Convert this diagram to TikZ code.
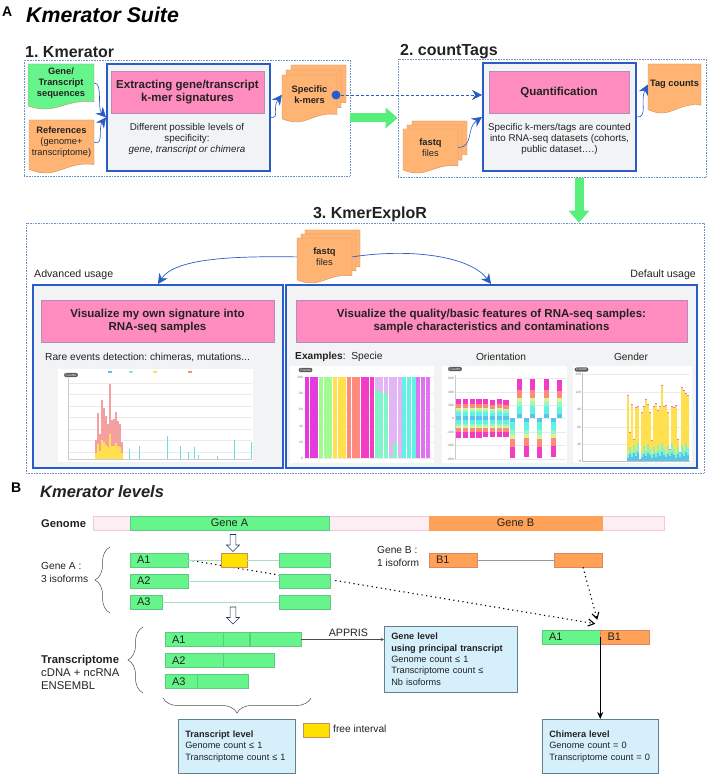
\documentclass[tikz,border=0pt]{standalone}
\usepackage{fontspec}
\setmainfont{Liberation Sans}
\frenchspacing
\usetikzlibrary{positioning, arrows.meta, shapes.arrows, decorations.pathreplacing}
\definecolor{boxblue}{HTML}{2A5CC8}
\definecolor{framedot}{HTML}{6F8FC8}
\definecolor{boxgray}{HTML}{F1F3F4}
\definecolor{barpink}{HTML}{FF8CBF}
\definecolor{barline}{HTML}{B58CC0}
\definecolor{docgreen}{HTML}{66F58C}
\definecolor{docorange}{HTML}{FFB473}
\definecolor{docline}{HTML}{C8905A}
\definecolor{arrowgreen}{HTML}{57EE7A}
\definecolor{genegreen}{HTML}{66F58A}
\definecolor{exonline}{HTML}{5FC885}
\definecolor{geneorange}{HTML}{FFA257}
\definecolor{orangeline}{HTML}{E08560}
\definecolor{genomepink}{HTML}{FBEEF4}
\definecolor{genomeline}{HTML}{F6C8D6}
\definecolor{freeyellow}{HTML}{FFE100}
\definecolor{levelblue}{HTML}{D5EFFB}
\definecolor{levelline}{HTML}{64808E}
\definecolor{txtdark}{HTML}{222222}
\definecolor{hollowline}{HTML}{1F3A5F}
\definecolor{barmag}{HTML}{E53BDD}
\definecolor{barlime}{HTML}{A2FA92}
\definecolor{baryel}{HTML}{FFE04E}
\definecolor{barsal}{HTML}{FF8A7C}
\definecolor{barpale}{HTML}{F5A0A0}
\definecolor{barrose}{HTML}{F23CC4}
\definecolor{barlil}{HTML}{E3B4F6}
\definecolor{baraqua}{HTML}{82F5C8}
\definecolor{barcya}{HTML}{62F2E4}
\definecolor{barorc}{HTML}{DE72F0}
\definecolor{barblu}{HTML}{58C4EA}
\definecolor{bargrn}{HTML}{92F8C4}
\definecolor{barlem}{HTML}{D8F492}
\tikzset{
    >={Stealth[length=10pt,width=10pt]}, % big blue heads
    dotframe/.style={draw=framedot, densely dotted, line width=.6pt},
    bluebox/.style={draw=boxblue, fill=boxgray, line width=2pt},
    pinkbar/.style={draw=barline, fill=barpink, line width=.4pt, align=center, text=txtdark,
        font=\fontsize{11.5}{13}\selectfont\bfseries},
    note/.style={align=center, text=txtdark, font=\fontsize{9.8}{11}\selectfont, inner sep=0pt},
    doctext/.style={align=center, inner sep=0pt, text=txtdark, font=\fontsize{9.3}{11}\selectfont},
    head/.style={anchor=west, inner sep=0pt, text=txtdark, font=\fontsize{16}{16}\selectfont\bfseries},
    flowarrow/.style={->, draw=boxblue, line width=.6pt},
    greenarrow/.style={draw=arrowgreen, line width=9pt, -{Triangle[length=12pt,width=20pt]}},
    exon/.style={draw=exonline, fill=genegreen, minimum height=14pt, inner ysep=0pt, inner xsep=7pt,
        align=left, text=txtdark, font=\fontsize{11}{11}\selectfont, line width=.5pt},
    exonB/.style={exon, draw=orangeline, fill=geneorange},
    intron/.style={draw=exonline!55, line width=.7pt},
    dotlink/.style={draw=black, dash pattern=on 1.2pt off 3.4pt, line width=1.1pt, -{Straight Barb[length=6pt,width=7pt]}},
    levelbox/.style={draw=levelline, fill=levelblue, line width=.6pt, anchor=north west, align=left,
        inner xsep=7pt, inner ysep=0pt, text=txtdark, font=\fontsize{9.2}{11.4}\selectfont},
    hollowdown/.style={single arrow, draw=hollowline, fill=white, shape border rotate=270, inner sep=2.6pt,
        minimum height=17pt, minimum width=13pt, single arrow head extend=3.5pt, line width=.6pt},
    curlybrace/.style={draw=black!70, line width=.5pt, decorate},
    side/.style={text=txtdark, font=\fontsize{10.2}{13}\selectfont, align=left, inner sep=0pt, anchor=west},
    chartbg/.style={fill=white},
    pill/.style={fill=black!65, rounded corners=2pt, text=white, inner xsep=1.5pt, inner ysep=.9pt, font=\fontsize{3.4}{3.4}\selectfont},
    tick/.style={text=black!55, inner sep=0pt, anchor=east, font=\fontsize{3.2}{3.4}\selectfont},
}
% one sheet with a wavy lower edge
\newcommand{\docsheet}[5]{
  \draw[fill=#5, draw=docline, line width=.4pt] (#1,#2) -- ({#1+#3},#2) -- ({#1+#3},{#2+.84*#4})
    .. controls ({#1+.65*#3},{#2+.78*#4}) and ({#1+.45*#3},{#2+1.03*#4}) .. ({#1+.22*#3},{#2+#4})
    .. controls ({#1+.12*#3},{#2+.99*#4}) and ({#1+.05*#3},{#2+.95*#4}) .. (#1,{#2+.93*#4}) -- cycle;
}
% name, left, top, width, height, colour, text
\newcommand{\docnode}[7]{
  \docsheet{#2}{#3}{#4}{#5}{#6}
  \node[doctext, minimum width=#4, minimum height={.84*#5}] (#1) at ({#2+#4/2},{#3+.42*#5}) {#7};
}
% one stacked bar: left, width, signed height (zero line at y=418)
\newcommand{\stackbar}[3]{
  \foreach \fa/\fb/\fc in {0/.10/barblu,.10/.30/barcya,.30/.42/bargrn,.42/.52/barlem,.52/.72/barsal,.72/1/barrose}
    \fill[\fc] (#1,{418-\fa*(#3)}) rectangle ({#1+#2},{418-\fb*(#3)});
}
\begin{document}
\begin{tikzpicture}[x=1pt, y=-1pt]
\useasboundingbox (0,0) rectangle (714,775);

% ---- panel A
\node[anchor=west, inner sep=0pt, font=\fontsize{14}{14}\selectfont\bfseries] (panelA) at (2,12) {A};
\node[anchor=west, inner sep=0pt, font=\fontsize{21.3}{20}\selectfont\bfseries\itshape] (titleA) at (26,15) {Kmerator Suite};

% 1. Kmerator
\node[head] (headKm) at (25,52) {1. Kmerator};
\node[dotframe, minimum width=326, minimum height=116] (kmframe) at (187,118) {};
\docnode{genedoc}{28}{64}{66}{45}{docgreen}{\textbf{Gene/}\\\textbf{Transcript}\\\textbf{sequences}}
\docnode{refdoc}{29}{120}{65}{53}{docorange}{\textbf{References}\\(genome+\\transcriptome)}
\node[bluebox, minimum width=163, minimum height=107] (kmbox) at (188.5,117.5) {};
\node[pinkbar, minimum width=153, minimum height=42] (kmbar) at (187.5,92) {Extracting gene/transcript\\k-mer signatures};
\node[note] (kmnote) at (187,139) {Different possible levels of\\specificity:\\\textit{gene, transcript or chimera}};
\docsheet{291}{65}{55}{45}{docorange}
\docsheet{286}{70}{55}{45}{docorange}
\docnode{kmerdoc}{282}{75}{55}{47}{docorange}{\textbf{Specific}\\\textbf{k-mers}}

% 2. countTags
\node[head] (headCt) at (400,52) {2. countTags};
\node[dotframe, minimum width=308, minimum height=118] (ctframe) at (552,118) {};
\node[bluebox, minimum width=153, minimum height=108] (ctbox) at (559.5,117) {};
\node[pinkbar, minimum width=140, minimum height=42] (ctbar) at (559,92) {Quantification};
\node[note] (ctnote) at (559.5,139) {Specific k-mers/tags are counted\\into RNA-seq datasets (cohorts,\\public dataset….)};
\docnode{tagdoc}{648}{64}{53}{49}{docorange}{\textbf{Tag counts}}
\docsheet{412}{121}{55}{40}{docorange}
\docsheet{407}{125}{55}{42}{docorange}
\docnode{fqdoc}{403}{129}{55}{44}{docorange}{\textbf{fastq}\\files}

\draw[flowarrow] (genedoc.east) .. controls (103,83) and (97,108) .. (kmbox.west);
\draw[flowarrow] (refdoc.east) .. controls (104,146) and (98,128) .. (kmbox.west);
\draw[flowarrow] (kmbox.east) .. controls (280,118) and (272,108) .. (kmerdoc.west);
\draw[flowarrow] (fqdoc.east) .. controls (474,147) and (466,128) .. (ctbox.west);
\draw[flowarrow] (ctbox.east) .. controls (648,118) and (640,100) .. (tagdoc.west);
\node[circle, fill=boxblue, minimum size=9pt, inner sep=0pt] (kmdot) at (336,95) {};
\draw[flowarrow, densely dashed, line width=.8pt] (kmdot) -- (kmdot -| ctbox.west);
\draw[greenarrow] (kmframe.east) -- (ctframe.west);

% 3. KmerExploR
\node[head, anchor=center] (headEx) at (370,214) {3. KmerExploR};
\node[dotframe, minimum width=678, minimum height=250] (exframe) at (365,348) {};
\coordinate (downstart) at (579,178);
\draw[greenarrow] (downstart) -- (downstart |- exframe.north);
\node[side, font=\fontsize{10.6}{11}\selectfont] (advtext) at (34,275) {Advanced usage};
\node[side, anchor=east, font=\fontsize{10.6}{11}\selectfont] (deftext) at (696,275) {Default usage};
\node[bluebox, minimum width=250, minimum height=183] (advbox) at (158,376.5) {};
\node[bluebox, minimum width=411, minimum height=183] (defbox) at (491.5,376.5) {};
\node[pinkbar, minimum width=233, minimum height=42] (advbar) at (157.5,321) {Visualize my own signature into\\RNA-seq samples};
\node[pinkbar, minimum width=391, minimum height=42] (defbar) at (491.5,321) {Visualize the quality/basic features of RNA-seq samples:\\sample characteristics and contaminations};
\node[side] (rare) at (45,357) {Rare events detection: chimeras, mutations...};
\node[side] (examples) at (295,357) {\textbf{Examples}:};
\node[side, anchor=center] (specie) at (367,357) {Specie};
\node[side, anchor=center] (orient) at (501,357) {Orientation};
\node[side, anchor=center] (gender) at (631,357) {Gender};
\docsheet{305}{230}{55}{44}{docorange}
\docsheet{301}{234}{55}{44}{docorange}
\docnode{exdoc}{297}{238}{55}{45}{docorange}{\textbf{fastq}\\files}
\draw[flowarrow, line width=.7pt] (exdoc.west) .. controls (235,256) and (175,258) .. (158,284);
\draw[flowarrow, line width=.7pt] (exdoc.east) .. controls (410,248) and (470,256) .. (491,284);

% chart: rare events
\fill[chartbg] (58,369) rectangle (253,462);
\foreach \gy in {383,394,406,417,429,440,452} \draw[black!8, line width=.3pt] (68,\gy) -- (252,\gy);
\draw[black!20, line width=.3pt] (68,378) -- (68,459) -- (252,459);
\node[pill] (pillA) at (71,375) {Counts};
\foreach \lx/\lc in {108/barblu,129/baraqua,153/baryel,188/barsal}
  \fill[\lc] (\lx,371) rectangle ++(4,2);
\foreach \rx/\rh in {95/19,97/46,99/25,101/59,103/51,105/43,107/35,109/75,111/39,113/40,115/47,117/38,119/35,121/17}{
  \fill[barpale] (\rx,459) rectangle ({\rx+1.6},{459-\rh});
  \fill[baryel] (\rx,459) rectangle ({\rx+1.6},{459-.33*\rh});
}
\foreach \rx/\rh in {129/10,139/13,167/23,180/13,188/7,194/12,198/4,217/3,234/19,251/17}
  \fill[barblu!50!baraqua] (\rx,459) rectangle ({\rx+1},{459-\rh});

% chart: specie
\fill[chartbg] (290,366) rectangle (434,463);
\foreach \sy/\sl in {377/100,393/80,409/60,426/40,442/20,458/0}{
  \draw[black!8, line width=.3pt] (304,\sy) -- (434,\sy);
  \node[tick] at (303,\sy) {\sl};
}
\node[pill] (pillS) at (305.5,370) {Counts};
\foreach \sc [count=\si from 0] in {barmag,barmag,barmag,barlime,barlime,barlime,baryel,baryel,baryel,barsal,barsal,barsal,barrose,barrose,barrose,barlil,barlil,barlil,barlil,barlil,barlil,barcya,barcya,barcya,barorc,barorc,barorc}
  \fill[\sc] ({305.2+4.63*\si},377) rectangle ({305.2+4.63*\si+4},458);
\foreach \qi/\qh in {15/68,16/66,17/65,18/2,19/15,20/1}
  \fill[baraqua] ({305.2+4.63*\qi},458) rectangle ({305.2+4.63*\qi+4},{458-\qh});

% chart: orientation
\fill[chartbg] (442,366) rectangle (567,463);
\foreach \oy/\ol in {378/600,392/400,405/200,418/0,432/-200,445/-400,459/-600}{
  \draw[black!8, line width=.3pt] (455,\oy) -- (566,\oy);
  \node[tick] at (454,\oy) {\ol};
}
\draw[black!20, line width=.3pt] (455,375) -- (455,460);
\node[pill] (pillO) at (455,369) {Counts};
\foreach \oi/\ou/\od in {0/19/20,1/19/20,2/19/20,3/19/20,4/19/19,5/18/19,6/19/19,7/18/19}{
  \pgfmathsetmacro{\ox}{456+6.75*\oi}
  \stackbar{\ox}{5.3}{\ou}
  \stackbar{\ox}{5.3}{-\od}
}
\foreach \ox/\oh in {510/-40,517/39,523.5/-39,530/39,537/-40,544/39,550.5/-39,557/38}{
  \stackbar{\ox}{5.3}{\oh}
}

% chart: gender
\fill[chartbg] (573,366) rectangle (692,463);
\foreach \gy/\gl in {374/150,392/120,409/90,427/60,444/30,461/0}{
  \draw[black!8, line width=.3pt] (582,\gy) -- (690,\gy);
  \node[tick] at (581,\gy) {\gl};
}
\draw[black!25, line width=.4pt] (582,373) -- (582,461) -- (690,461);
\node[pill] (pillG) at (581.5,369.5) {Counts};
\foreach \gh [count=\gi from 0] in {66,29,57,22,54,55,2,49,55,62,57,49,21,55,58,51,55,76,55,56,49,12,55,54,56,22,9,74,71,68,66}{
  \pgfmathsetmacro{\gt}{min(\gh,7+mod(\gi*7,12))}
  \fill[baryel] ({627+2*\gi},461) rectangle ({628.9+2*\gi},{461-\gh});
  \fill[baraqua] ({627+2*\gi},461) rectangle ({628.9+2*\gi},{461-\gt});
  \fill[barblu] ({627+2*\gi},461) rectangle ({628.9+2*\gi},{461-.5*\gt});
  \fill[barorc] ({627+2*\gi},{461-\gh}) rectangle ({628.9+2*\gi},{462.2-\gh});
}

% ---- panel B
\node[anchor=west, inner sep=0pt, font=\fontsize{14}{14}\selectfont\bfseries] (panelB) at (11,488) {B};
\node[anchor=west, inner sep=0pt, text=txtdark, font=\fontsize{16.5}{16}\selectfont\bfseries\itshape] (titleB) at (40,492) {Kmerator levels};

\node[side, font=\fontsize{11.2}{11}\selectfont\bfseries] (genome) at (41,524) {Genome};
\node[draw=genomeline, fill=genomepink, minimum width=571, minimum height=14, inner sep=0pt, line width=.5pt] (genomebar) at (378.5,523) {};
\node[exon, minimum width=199, inner xsep=0pt] (geneA) at (229.5,523) {Gene A};
\node[exon, draw=geneorange, fill=geneorange, minimum width=173, inner xsep=0pt] (geneB) at (515.5,523) {Gene B};
\node[hollowdown] (downA) at (233,541.5) {};

% isoforms gene A and B
\draw[dotlink, -] (188,560) -- (279,575);
\node[exon, minimum width=58, text width=44pt] (isoAa) at (159,560) {A1};
\node[exon, minimum width=51] (isoAx) at (304.5,560) {};
\node[exon, draw=docline, fill=freeyellow, minimum width=26] (freeint) at (234,560) {};
\node[exon, minimum width=58, text width=44pt] (isoBa) at (159,581) {A2};
\node[exon, minimum width=51] (isoBx) at (304.5,581) {};
\node[exon, minimum width=32, text width=18pt] (isoCa) at (146,602) {A3};
\node[exon, minimum width=51] (isoCx) at (304.5,602) {};
\draw[intron] (isoAa.east) -- (freeint.west);
\draw[intron] (freeint.east) -- (isoAx.west);
\draw[intron] (isoBa.east) -- (isoBx.west);
\draw[intron] (isoCa.east) -- (isoCx.west);
\node[exonB, minimum width=48, text width=34pt] (geneBa) at (453,560) {B1};
\node[exonB, minimum width=48] (geneBx) at (578,560) {};
\draw[draw=black!40, line width=.8pt] (geneBa.east) -- (geneBx.west);
\node[side] (isoAtext) at (41,572.5) {Gene A :\\3 isoforms};
\node[side] (isoBtext) at (377,556.5) {Gene B :\\1 isoform};
\coordinate (braceAa) at (110,613);
\coordinate (braceAb) at (110,547);
\draw[curlybrace, decoration={brace, amplitude=15pt}] (braceAa) -- (braceAb);
\node[hollowdown] (downB) at (233,614) {};

% transcripts
\node[exon, minimum width=58, text width=44pt] (trAa) at (194,639.5) {A1};
\node[exon, minimum width=26, right=0pt of trAa] (trAb) {};
\node[exon, minimum width=51, right=0pt of trAb] (trAc) {};
\node[exon, minimum width=58, text width=44pt] (trBa) at (194,660.5) {A2};
\node[exon, minimum width=51, right=0pt of trBa] (trBb) {};
\node[exon, minimum width=32, text width=18pt] (trCa) at (181,681.5) {A3};
\node[exon, minimum width=51, right=0pt of trCa] (trCb) {};
\node[side, font=\fontsize{11.3}{13.3}\selectfont] (trtext) at (41,672.5) {\textbf{Transcriptome}\\cDNA + ncRNA\\ENSEMBL};
\coordinate (braceBa) at (143,693);
\coordinate (braceBb) at (143,627);
\draw[curlybrace, decoration={brace, amplitude=15pt}] (braceBa) -- (braceBb);
\coordinate (braceCa) at (311,698);
\coordinate (braceCb) at (163,698);
\draw[curlybrace, decoration={brace, amplitude=15pt}] (braceCa) -- (braceCb);

% level boxes
\node[levelbox, minimum width=133, minimum height=66, text width=119pt] (genebox) at (384,626) {\textbf{Gene level}\\\textbf{using principal transcript}\\Genome count ≤ 1\\Transcriptome count ≤\\Nb isoforms};
\node[levelbox, minimum width=117, minimum height=54, text width=103pt] (transbox) at (178,719) {\textbf{Transcript level}\\Genome count ≤ 1\\Transcriptome count ≤ 1};
\node[levelbox, minimum width=116, minimum height=54, text width=102pt] (chimbox) at (542,719) {\textbf{Chimera level}\\Genome count = 0\\Transcriptome count = 0};
\draw[draw=black!70, line width=.5pt, -{Stealth[length=3pt,width=3pt]}] (trAc.east) -- node[pos=.57, above=-1pt, text=txtdark, font=\fontsize{10.7}{11}\selectfont] (appris) {APPRIS} (trAc.east -| genebox.west);
\node[exon, draw=docline, fill=freeyellow, minimum width=26] (freekey) at (316,730) {};
\node[side] (freetext) at (333,729) {free interval};

% chimera
\node[exon, minimum width=58, text width=44pt] (chimA) at (571,637) {A1};
\node[exonB, minimum width=49, text width=35pt, right=0pt of chimA] (chimB) {B1};
\draw[dotlink] (isoBx.east) ++(5,-.5) -- ([xshift=-5pt,yshift=6pt]chimA.north east);
\draw[dotlink] ([xshift=5pt]geneBx.south) -- ([xshift=-3pt,yshift=10pt]chimA.north east);
\draw[black, line width=1.1pt, -{Stealth[length=7pt,width=6pt]}] (chimA.east) -- (chimA.east |- chimbox.north);
\end{tikzpicture}
\end{document}
